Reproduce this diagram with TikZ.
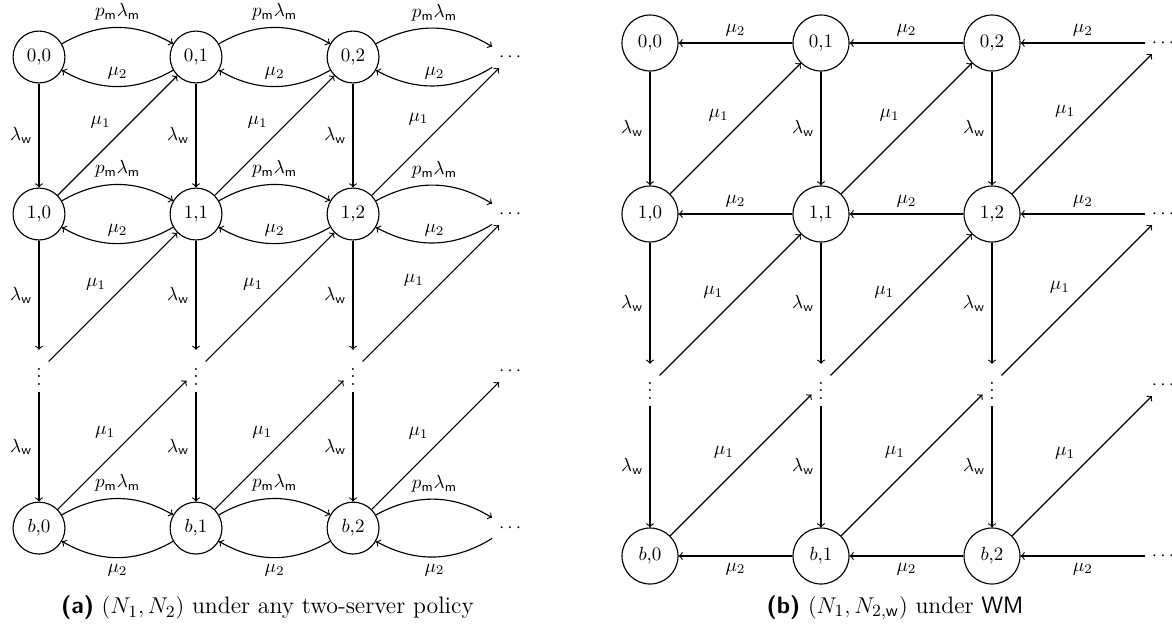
\documentclass[tikz,border=0pt]{standalone}

\newcommand{\lamw}{$\lambda_{\mathsf{w}}$}
\newcommand{\plam}{$p_{\mathsf{m}}\lambda_{\mathsf{m}}$}
\newcommand{\muA}{$\mu_1$}
\newcommand{\muB}{$\mu_2$}

\begin{document}
\begin{tikzpicture}[semithick,>=to,
    st/.style={draw,circle,minimum size=0.96cm,inner sep=0pt},
    stw/.style={st,minimum size=1.036cm},
    etc/.style={inner sep=3.33pt},
    captxt/.style={font=\fontsize{12.5}{15}\selectfont}]
    \useasboundingbox (0,0) rectangle (21.682,-11.5625);
    %
    % (a) any two-server policy
    \begin{scope}[shift={(0.7215,-1.0545)},x=2.905cm,y=-2.905cm]
        \node[st] (L00) at (0,0) {0,0};
        \node[st] (L01) at (1,0) {0,1};
        \node[st] (L02) at (2,0) {0,2};
        \node[etc] (L03) at (3,0) {$\cdots$};
        \node[st] (L10) at (0,1) {1,0};
        \node[st] (L11) at (1,1) {1,1};
        \node[st] (L12) at (2,1) {1,2};
        \node[etc] (L13) at (3,1) {$\cdots$};
        \node[etc] (L20) at (0,2) {$\vdots$};
        \node[etc] (L21) at (1,2) {$\vdots$};
        \node[etc] (L22) at (2,2) {$\vdots$};
        \node[etc] (L23) at (3,2) {$\cdots$};
        \node[st] (L30) at (0,3) {$b$,0};
        \node[st] (L31) at (1,3) {$b$,1};
        \node[st] (L32) at (2,3) {$b$,2};
        \node[etc] (L33) at (3,3) {$\cdots$};
        %
        \draw[->] (L00) to[bend left=30] node[above] {\plam} (L01);
        \draw[->] (L01) to[bend left=30] node[above] {\plam} (L02);
        \draw[->] (L02) to[bend left=30] node[above] {\plam} (L03);
        \draw[->] (L01) to[bend left=30] node[above] {\muB} (L00);
        \draw[->] (L02) to[bend left=30] node[above] {\muB} (L01);
        \draw[->] (L03) to[bend left=30] node[above] {\muB} (L02);
        %
        \draw[->] (L10) to[bend left=30] node[above] {\plam} (L11);
        \draw[->] (L11) to[bend left=30] node[above] {\plam} (L12);
        \draw[->] (L12) to[bend left=30] node[above] {\plam} (L13);
        \draw[->] (L11) to[bend left=30] node[above] {\muB} (L10);
        \draw[->] (L12) to[bend left=30] node[above] {\muB} (L11);
        \draw[->] (L13) to[bend left=30] node[above] {\muB} (L12);
        %
        \draw[->] (L30) to[bend left=30] node[above] {\plam} (L31);
        \draw[->] (L31) to[bend left=30] node[above] {\plam} (L32);
        \draw[->] (L32) to[bend left=30] node[above] {\plam} (L33);
        \draw[->] (L31) to[bend left=30] node[below] {\muB} (L30);
        \draw[->] (L32) to[bend left=30] node[below] {\muB} (L31);
        \draw[->] (L33) to[bend left=30] node[below] {\muB} (L32);
        %
        \draw[->] (L00) -- node[left] {\lamw} (L10);
        \draw[->] (L01) -- node[left] {\lamw} (L11);
        \draw[->] (L02) -- node[left] {\lamw} (L12);
        \draw[->] (L10) -- node[left] {\lamw} (L20);
        \draw[->] (L11) -- node[left] {\lamw} (L21);
        \draw[->] (L12) -- node[left] {\lamw} (L22);
        \draw[->] (L20) -- node[left] {\lamw} (L30);
        \draw[->] (L21) -- node[left] {\lamw} (L31);
        \draw[->] (L22) -- node[left] {\lamw} (L32);
        %
        \draw[->] (L10) -- node[above left] {\muA} (L01);
        \draw[->] (L11) -- node[above left] {\muA} (L02);
        \draw[->] (L12) -- node[above left] {\muA} (L03);
        \draw[->] (L20) -- node[above left] {\muA} (L11);
        \draw[->] (L21) -- node[above left] {\muA} (L12);
        \draw[->] (L22) -- node[above left] {\muA} (L13);
        \draw[->] (L30) -- node[above left] {\muA} (L21);
        \draw[->] (L31) -- node[above left] {\muA} (L22);
        \draw[->] (L32) -- node[above left] {\muA} (L23);
    \end{scope}
    \node[captxt] (capa) at (4.949,-11.248)
        {\textsf{\textbf{(a)}} $(N_1, N_2)$ under any two-server policy};
    %
    % (b) WM
    \begin{scope}[shift={(12.025,-0.7955)},x=3.1635cm,y=-3.1635cm]
        \node[stw] (R00) at (0,0) {0,0};
        \node[stw] (R01) at (1,0) {0,1};
        \node[stw] (R02) at (2,0) {0,2};
        \node[etc] (R03) at (3,0) {$\cdots$};
        \node[stw] (R10) at (0,1) {1,0};
        \node[stw] (R11) at (1,1) {1,1};
        \node[stw] (R12) at (2,1) {1,2};
        \node[etc] (R13) at (3,1) {$\cdots$};
        \node[etc] (R20) at (0,2) {$\vdots$};
        \node[etc] (R21) at (1,2) {$\vdots$};
        \node[etc] (R22) at (2,2) {$\vdots$};
        \node[etc] (R23) at (3,2) {$\cdots$};
        \node[stw] (R30) at (0,3) {$b$,0};
        \node[stw] (R31) at (1,3) {$b$,1};
        \node[stw] (R32) at (2,3) {$b$,2};
        \node[etc] (R33) at (3,3) {$\cdots$};
        %
        \draw[->] (R01) -- node[above] {\muB} (R00);
        \draw[->] (R02) -- node[above] {\muB} (R01);
        \draw[->] (R03) -- node[above] {\muB} (R02);
        \draw[->] (R11) -- node[above] {\muB} (R10);
        \draw[->] (R12) -- node[above] {\muB} (R11);
        \draw[->] (R13) -- node[above] {\muB} (R12);
        \draw[->] (R31) -- node[below] {\muB} (R30);
        \draw[->] (R32) -- node[below] {\muB} (R31);
        \draw[->] (R33) -- node[below] {\muB} (R32);
        %
        \draw[->] (R00) -- node[left] {\lamw} (R10);
        \draw[->] (R01) -- node[left] {\lamw} (R11);
        \draw[->] (R02) -- node[left] {\lamw} (R12);
        \draw[->] (R10) -- node[left] {\lamw} (R20);
        \draw[->] (R11) -- node[left] {\lamw} (R21);
        \draw[->] (R12) -- node[left] {\lamw} (R22);
        \draw[->] (R20) -- node[left] {\lamw} (R30);
        \draw[->] (R21) -- node[left] {\lamw} (R31);
        \draw[->] (R22) -- node[left] {\lamw} (R32);
        %
        \draw[->] (R10) -- node[above left] {\muA} (R01);
        \draw[->] (R11) -- node[above left] {\muA} (R02);
        \draw[->] (R12) -- node[above left] {\muA} (R03);
        \draw[->] (R20) -- node[above left] {\muA} (R11);
        \draw[->] (R21) -- node[above left] {\muA} (R12);
        \draw[->] (R22) -- node[above left] {\muA} (R13);
        \draw[->] (R30) -- node[above left] {\muA} (R21);
        \draw[->] (R31) -- node[above left] {\muA} (R22);
        \draw[->] (R32) -- node[above left] {\muA} (R23);
    \end{scope}
    \node[captxt] (capb) at (16.558,-11.248)
        {\textsf{\textbf{(b)}} $(N_1, N_{2,\mathsf{w}})$ under \textsf{WM}};
\end{tikzpicture}
\end{document}
